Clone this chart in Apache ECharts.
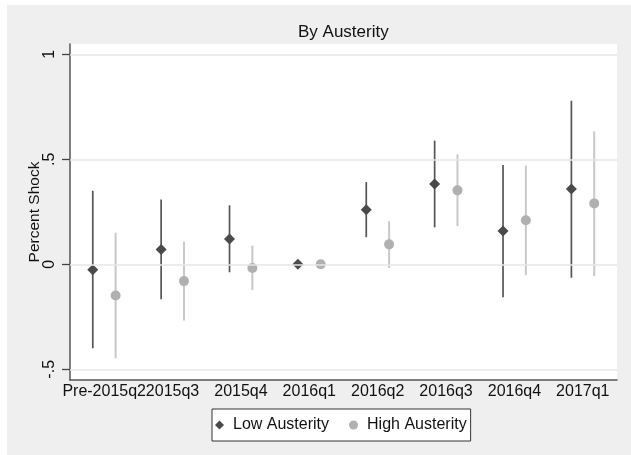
<!DOCTYPE html>
<html>
<head>
<meta charset="utf-8">
<script src="https://cdn.jsdelivr.net/npm/echarts@6/dist/echarts.min.js"></script>
<style>
  html, body { margin: 0; padding: 0; background: #ffffff; }
  #chart { position: absolute; left: 7px; top: 5px; width: 624px; height: 450px; }
</style>
</head>
<body>
<div id="chart"></div>
<script>
const categories = ['Pre-2015q2', '2015q3', '2015q4', '2016q1', '2016q2', '2016q3', '2016q4', '2017q1'];
const lowEst  = [-0.026, 0.071, 0.120, 0, 0.260, 0.382, 0.159, 0.359];
const lowLo   = [-0.400, -0.167, -0.038, null, 0.129, 0.176, -0.157, -0.064];
const lowHi   = [0.350, 0.308, 0.281, null, 0.392, 0.589, 0.473, 0.779];
const highEst = [-0.149, -0.080, -0.018, 0, 0.095, 0.352, 0.210, 0.290];
const highLo  = [-0.448, -0.268, -0.122, null, -0.018, 0.182, -0.052, -0.056];
const highHi  = [0.150, 0.108, 0.089, null, 0.205, 0.524, 0.470, 0.633];
const yTicks = [-0.5, 0, 0.5, 1];
const yTickLabels = ['-.5', '0', '.5', '1'];

const OFFSET = 0.167;
const FONT = "'Liberation Sans', Arial, Helvetica, sans-serif";

function pts(est, shift) {
  return est.map((v, i) => [i + shift, v]);
}
function bars(lo, hi, shift) {
  return lo.map((v, i) => (v === null ? null : [i + shift, v, hi[i]])).filter(d => d);
}
function whisker(color, width) {
  return function (params, api) {
    const x = api.value(0);
    const a = api.coord([x, api.value(1)]);
    const b = api.coord([x, api.value(2)]);
    return {
      type: 'line',
      shape: { x1: a[0], y1: a[1], x2: b[0], y2: b[1] },
      style: { stroke: color, lineWidth: width }
    };
  };
}

const chart = echarts.init(document.getElementById('chart'), null, { renderer: 'canvas' });
chart.setOption({
  backgroundColor: '#efefef',
  animation: false,
  textStyle: { fontFamily: FONT },
  title: {
    text: 'By Austerity',
    left: 291,
    top: 19,
    padding: 0,
    textStyle: { fontFamily: FONT, fontSize: 17, fontWeight: 'normal', color: '#111' }
  },
  legend: {
    left: 205,
    top: 404,
    orient: 'horizontal',
    backgroundColor: '#ffffff',
    borderColor: '#333333',
    borderWidth: 1,
    borderRadius: 0,
    padding: [8, 4, 8, 3],
    itemWidth: 9,
    itemHeight: 9,
    itemGap: 20,
    textStyle: { fontFamily: FONT, fontSize: 16, color: '#111', padding: [0, 0, 0, 4] },
    data: [
      { name: 'Low Austerity', icon: 'diamond' },
      { name: 'High Austerity', icon: 'circle' }
    ]
  },
  grid: {
    left: 63, top: 39, right: 14, bottom: 75,
    show: true, backgroundColor: '#ffffff', borderWidth: 0
  },
  xAxis: [
    {
      type: 'category',
      data: categories,
      boundaryGap: true,
      axisLine: { show: true, onZero: false, lineStyle: { color: '#555555', width: 1.5 } },
      axisTick: { show: false },
      axisLabel: { interval: 0, fontFamily: FONT, fontSize: 16, color: '#111', margin: 4 },
      splitLine: { show: false }
    },
    {
      type: 'value',
      min: -0.5,
      max: 7.5,
      show: false
    }
  ],
  yAxis: {
    type: 'value',
    min: -0.551,
    max: 1.049,
    name: 'Percent Shock',
    nameLocation: 'middle',
    nameRotate: 90,
    nameGap: 27,
    nameMoveOverlap: false,
    nameTextStyle: { fontFamily: FONT, fontSize: 15.5, color: '#111' },
    axisLine: { show: true, onZero: false, lineStyle: { color: '#555555', width: 1.5 } },
    axisTick: { show: true, inside: false, length: 8, customValues: yTicks, lineStyle: { color: '#444444', width: 1.3 } },
    axisLabel: {
      rotate: 90,
      margin: 12,
      customValues: yTicks,
      fontFamily: FONT, fontSize: 16, color: '#111',
      formatter: v => { const k = yTicks.findIndex(t => Math.abs(t - v) < 1e-9); return k >= 0 ? yTickLabels[k] : ''; }
    },
    splitLine: { show: false }
  },
  series: [
    {
      name: 'grid',
      type: 'line',
      xAxisIndex: 1,
      data: [],
      z: 0,
      silent: true,
      markLine: {
        silent: true,
        symbol: ['none', 'none'],
        label: { show: false },
        lineStyle: { color: '#e6e6e6', width: 1.5, type: 'solid' },
        data: yTicks.map(v => ({ yAxis: v }))
      }
    },
    {
      name: 'Low Austerity CI',
      type: 'custom',
      xAxisIndex: 1,
      z: 2,
      renderItem: whisker('#555555', 1.7),
      encode: { x: 0, y: [1, 2] },
      data: bars(lowLo, lowHi, -OFFSET)
    },
    {
      name: 'High Austerity CI',
      type: 'custom',
      xAxisIndex: 1,
      z: 2,
      renderItem: whisker('#c8c8c8', 2),
      encode: { x: 0, y: [1, 2] },
      data: bars(highLo, highHi, OFFSET)
    },
    {
      name: 'Low Austerity',
      type: 'scatter',
      xAxisIndex: 1,
      z: 3,
      symbol: 'diamond',
      symbolSize: 11,
      itemStyle: { color: '#4a4a4a', opacity: 1 },
      data: pts(lowEst, -OFFSET)
    },
    {
      name: 'High Austerity',
      type: 'scatter',
      xAxisIndex: 1,
      z: 3,
      symbol: 'circle',
      symbolSize: 10,
      itemStyle: { color: '#b0b0b0', opacity: 1 },
      data: pts(highEst, OFFSET)
    }
  ]
});
</script>
</body>
</html>
